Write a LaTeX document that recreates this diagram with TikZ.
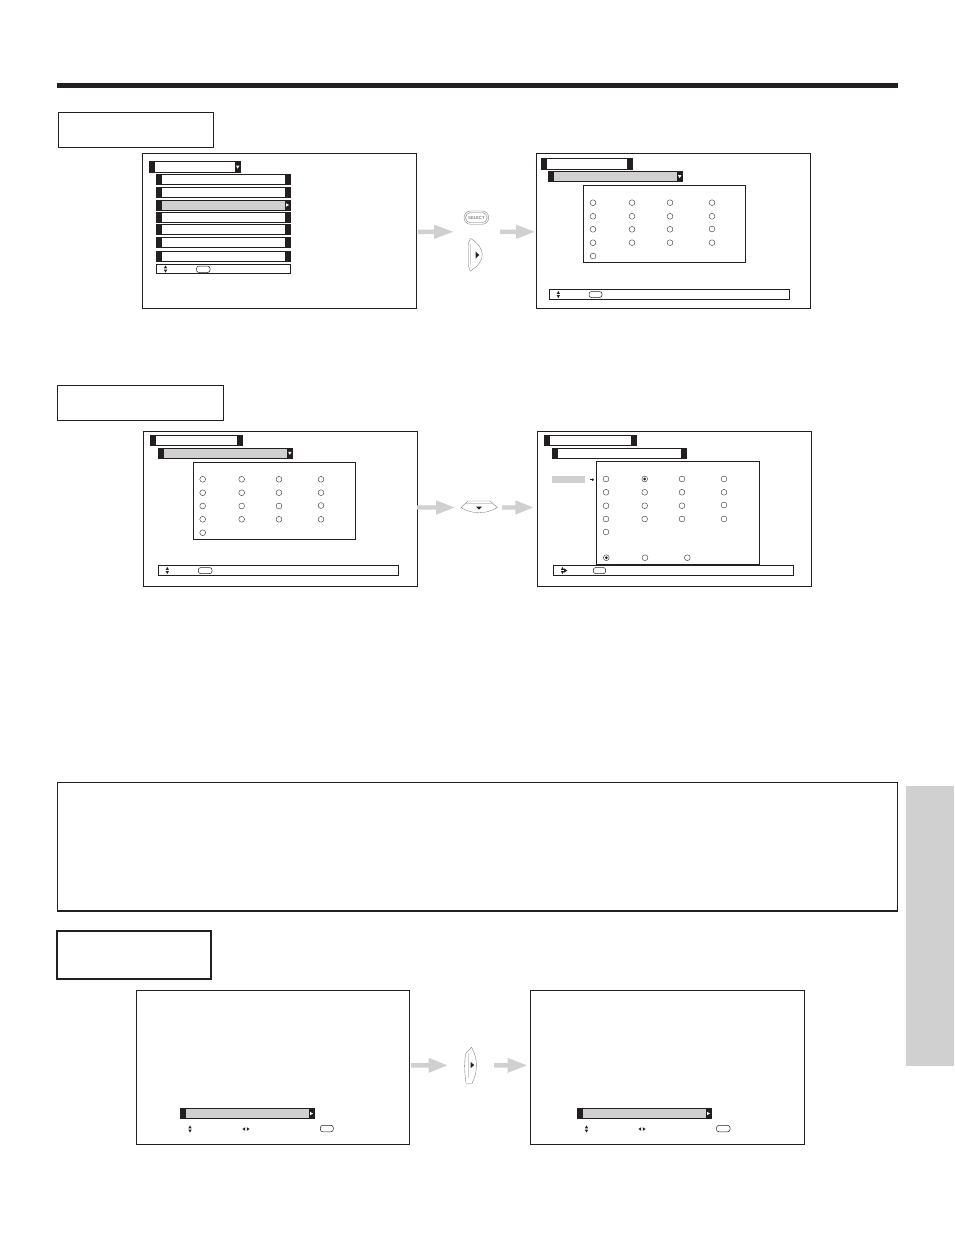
\documentclass[tikz,border=0pt]{standalone}
\usepackage{fontspec}
\setmainfont{Liberation Sans}
\definecolor{tvgray}{HTML}{D0D0D0}
\definecolor{tvblack}{HTML}{231F20}
\tikzset{
  x=1pt,y=-1pt,
  screen/.style={draw=tvblack,line width=0.9pt,fill=white},
  labelbox/.style={draw=tvblack,line width=0.8pt,fill=white},
  panelbox/.style={draw=tvblack,line width=0.9pt,fill=white},
  radio/.style={draw=tvblack!85,line width=0.45pt,fill=white},
  glyph/.style={fill=tvblack,draw=none},
  pill/.style={draw=tvblack,line width=0.5pt,fill=white,rounded corners=2.5pt},
  btn/.style={draw=tvblack!60,line width=0.35pt,fill=white},
  blockarrow/.style={fill=tvgray,draw=none}
}
% x1 y1 x2 y2 innerfill, caps 6 wide
\newcommand{\menubar}[5]{%
  \fill[tvblack] (#1,#2) rectangle (#3,#4);
  \fill[#5] ({#1+6},{#2+1}) rectangle ({#3-6},{#4-1});
}
\newcommand{\downglyph}[2]{\fill[white] ({#1-1.7},{#2-1.3}) -- ({#1+1.7},{#2-1.3}) -- (#1,{#2+1.7}) -- cycle;}
\newcommand{\rightglyph}[2]{\fill[white] ({#1-1.5},{#2-1.7}) -- ({#1+1.5},#2) -- ({#1-1.5},{#2+1.7}) -- cycle;}
\newcommand{\updown}[2]{%
  \fill[glyph] ({#1-1.6},{#2-0.7}) -- ({#1+1.6},{#2-0.7}) -- (#1,{#2-3.6}) -- cycle;
  \fill[glyph] ({#1-1.6},{#2+0.7}) -- ({#1+1.6},{#2+0.7}) -- (#1,{#2+3.6}) -- cycle;}
\newcommand{\leftright}[2]{%
  \fill[glyph] ({#1-0.8},{#2-1.8}) -- ({#1-0.8},{#2+1.8}) -- ({#1-3.6},#2) -- cycle;
  \fill[glyph] ({#1+0.8},{#2-1.8}) -- ({#1+0.8},{#2+1.8}) -- ({#1+3.6},#2) -- cycle;}
% xstart xhead xtip yc halfhead
\newcommand{\blockarr}[5]{%
  \fill[blockarrow] (#1,{#4-2.2}) -- (#2,{#4-2.2}) -- (#2,{#4-#5}) -- (#3,#4) -- (#2,{#4+#5}) -- (#2,{#4+2.2}) -- (#1,{#4+2.2}) -- cycle;}
\newcommand{\radios}[2]{\foreach \cx/\cy in {#2}{\draw[radio] (\cx,\cy) circle (#1);}}
\newcommand{\rightbtn}[3]{% x left, y top, height
  \draw[btn] ({#1+2},#2) -- ({#1},{#2+0.17*#3}) -- ({#1},{#2+0.83*#3}) -- ({#1+2},{#2+#3});
  \draw[btn] ({#1+2},#2) .. controls ({#1+18},{#2+0.3*#3}) and ({#1+18},{#2+0.7*#3}) .. ({#1+2},{#2+#3});
  \draw[draw=tvgray,line width=0.7pt] ({#1+2},{#2+0.17*#3}) -- ({#1+2},{#2+0.83*#3});
}
\begin{document}
\begin{tikzpicture}
\useasboundingbox (0,0) rectangle (954,1235);
\fill[white] (0,0) rectangle (954,1235);
% header rule
\fill[tvblack] (57,83) rectangle (898,88);
% side tab
\fill[tvgray] (906,786) rectangle (954,1066);
% label boxes
\draw[labelbox] (58.5,112.5) rectangle (213.5,147.5);
\draw[labelbox] (57.5,385.5) rectangle (223,420);
\draw[panelbox] (57.5,782.5) rectangle (897.5,911);
\draw[draw=tvblack,line width=1.2pt] (57,911) -- (898,911);
\draw[labelbox,line width=1.3pt] (57,931) rectangle (211,979);

% ===== screen 1 =====
\draw[screen] (142.5,153.5) rectangle (416.5,308);
\menubar{149}{161}{241}{173}{white}
\downglyph{237.7}{167}
\foreach \ya/\yb in {174/185,187/198,212/223,224/235,237/248,251/262}{\menubar{156}{\ya}{291}{\yb}{white}}
\menubar{156}{200}{291}{210.5}{tvgray}
\rightglyph{287.5}{205}
\draw[draw=tvblack,line width=0.7pt] (156.5,264.5) rectangle (290.5,273.8);
\updown{165.5}{269}
\draw[pill] (196.5,266) rectangle (210,272.5);

% ===== screen 2 =====
\draw[screen] (536.5,153.5) rectangle (810,308);
\menubar{541}{158}{633}{170}{white}
\menubar{548}{171}{683}{182}{tvgray}
\downglyph{679.7}{176.5}
\draw[panelbox,line width=0.7pt] (583.5,185.5) rectangle (745.5,262.5);
\radios{2.9}{593/202.7,632/202.7,670/202.7,712/202.7,593/216.3,632/216.3,670/216.3,712/216.3,593/229.3,632/229.3,670/229.3,712/229,593/242.7,632/242.7,670/242.7,712/242.7,593/256}
\draw[draw=tvblack,line width=0.7pt] (549.5,289.5) rectangle (789.5,299.5);
\updown{558.3}{294.5}
\draw[pill] (589,291.5) rectangle (602,297.5);

% ===== screen 3 =====
\draw[screen] (143.5,431.5) rectangle (417.5,586.5);
\menubar{150}{435}{243}{446}{white}
\menubar{158}{448}{293}{458.7}{tvgray}
\downglyph{289.8}{453.2}
\draw[panelbox,line width=0.7pt] (193.3,462.3) rectangle (355.7,539.7);
\radios{2.9}{202.7/479.3,241.7/479.3,279/479.3,321/479.3,202.7/492.7,241.7/492.7,279/492.7,321/492.7,202.7/506,241.7/506,279/506,321/505.5,202.7/519.3,241.7/519.3,279/519.3,321/519.3,202.7/532.7}
\draw[draw=tvblack,line width=0.7pt] (158.5,565.5) rectangle (398.7,575.7);
\updown{167.3}{570.5}
\draw[pill] (198.3,567.5) rectangle (212,573.7);

% ===== screen 4 =====
\draw[screen] (537.5,431.5) rectangle (811.3,586.5);
\menubar{544}{435}{637}{446}{white}
\menubar{552}{448}{687}{459}{white}
\fill[tvgray] (552,476) rectangle (585,483.3);
\fill[glyph] (590,479.3) rectangle (592.5,480.1);
\fill[glyph] (592.2,478.3) -- (594.2,479.7) -- (592.2,481.1) -- cycle;
\draw[panelbox,line width=0.7pt] (596.3,461.3) rectangle (759.7,564.3);
\radios{2.9}{606/479,644.7/479,682/479,724/479,606/492.3,644.7/492.3,682/492.3,724/492.3,606/505.7,644.7/505.7,682/505.7,724/505,606/519,644.7/519,682/519,724/519,606/532,606.3/557.7,645/557.7,687.3/557.7}
\fill[glyph] (644.7,479) circle (1.5);
\fill[glyph] (606.3,557.7) circle (1.5);
\draw[draw=tvblack,line width=0.7pt] (553.5,565.5) rectangle (793.7,575.7);
\updown{562.5}{570.5}
\fill[glyph] (564,568.3) -- (567.3,570.5) -- (564,572.7) -- cycle;
\draw[pill] (593.3,567.5) rectangle (605.7,573.7);

% ===== screen 5 =====
\draw[screen] (136.5,990.5) rectangle (409.5,1144.5);
\menubar{180}{1108}{315}{1119}{tvgray}
\rightglyph{311.5}{1113.5}
\updown{190}{1129}
\leftright{246}{1129}
\draw[pill] (320.3,1125.3) rectangle (333.3,1131.8);

% ===== screen 6 =====
\draw[screen] (530.5,990.5) rectangle (804.5,1144.5);
\menubar{577}{1108}{712}{1119}{tvgray}
\rightglyph{708.5}{1113.5}
\updown{586.5}{1129}
\leftright{642}{1129}
\draw[pill] (716.5,1125.3) rectangle (730,1131.8);

% ===== block arrows =====
\blockarr{418}{434}{453}{231.8}{7.2}
\blockarr{500}{516}{534.5}{231.8}{7.2}
\blockarr{417}{436}{454.5}{507.5}{7.2}
\blockarr{502}{515.3}{533}{507.5}{7.2}
\blockarr{411}{428.7}{447.3}{1065.3}{7.5}
\blockarr{494}{507.7}{526.7}{1065.3}{7.5}

% ===== remote buttons =====
\draw[btn,rounded corners=6.6pt] (464,211) rectangle (488.7,224.3);
\draw[btn,rounded corners=5.2pt] (465.5,212.5) rectangle (487.2,222.8);
\node[font=\fontsize{4.2}{5}\selectfont,text=tvblack!80,inner sep=0pt] (selectkey) at (476.4,217.7) {SELECT};

\rightbtn{468.3}{238.3}{32.7}
\fill[glyph] (475.7,251.7) -- (479.3,255) -- (475.7,258.3) -- cycle;

% down key
\draw[btn] (468,501) -- (490,501) -- (497.3,507.5) .. controls (486,514.5) and (472,514.5) .. (461,507.5) -- cycle;
\draw[draw=tvgray,line width=0.7pt] (466,503.5) -- (492,503.5);
\fill[glyph] (476,506.7) -- (482,506.7) -- (479,509.5) -- cycle;

% lower right key
\draw[btn] (466,1083.3) .. controls (464.2,1070) and (464.2,1060) .. (466,1053) -- (471.5,1047.3) .. controls (478,1058) and (478,1072) .. (472,1083.3) -- cycle;
\draw[draw=tvgray,line width=0.7pt] (468.2,1053) -- (468.2,1078);
\fill[glyph] (470.7,1062) -- (474.2,1065) -- (470.7,1068) -- cycle;
\end{tikzpicture}
\end{document}
